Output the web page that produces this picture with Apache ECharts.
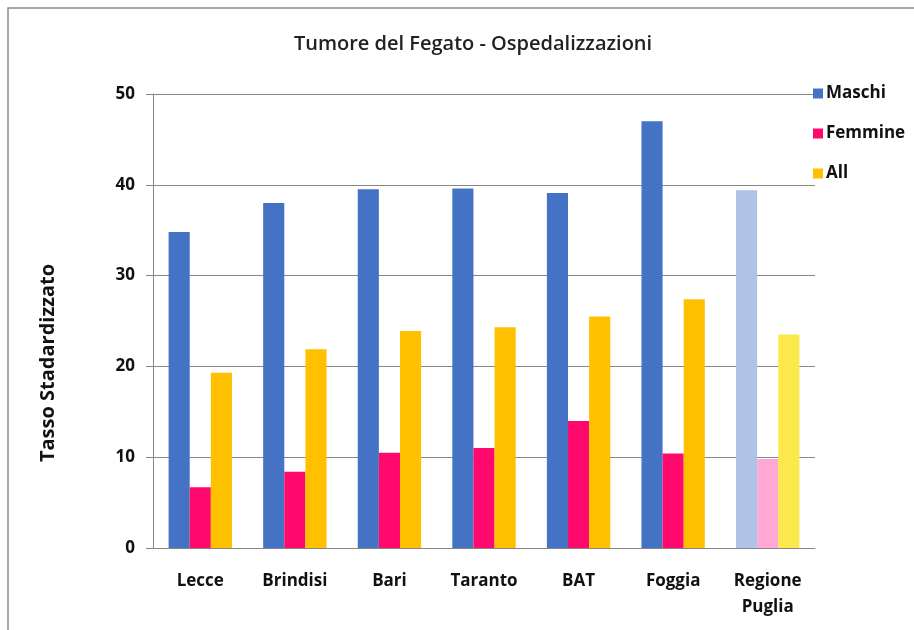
<!DOCTYPE html>
<html>
<head>
<meta charset="utf-8">
<script src="https://cdn.jsdelivr.net/npm/echarts@6/dist/echarts.min.js"></script>
<style>
  html, body { margin: 0; padding: 0; background: #fff; }
  #chart { width: 914px; height: 630px; }
</style>
</head>
<body>
<div id="chart"></div>
<script>
// dati
const categories = ['Lecce', 'Brindisi', 'Bari', 'Taranto', 'BAT', 'Foggia', 'Regione\nPuglia']
const maschi = [34.8, 38.0, 39.5, 39.6, 39.1, 47.0, 39.4]
const femmine = [6.7, 8.4, 10.5, 11.0, 14.0, 10.4, 9.8]
const all = [19.3, 21.9, 23.9, 24.3, 25.5, 27.4, 23.5]
const yTicks = [0, 10, 20, 30, 40, 50]

const colors = ['#4472C4', '#FF0A6C', '#FFC000']
// colori attenuati per la regione (ultima categoria)
const lightColors = ['#AFC3E6', '#FFA8D6', '#FBE84A']

const font = '"Open Sans", "Noto Sans", sans-serif'

// ultimo valore con colore chiaro
function buildData(values, idx){
    return values.map((v, i) => {
        if(i === values.length - 1){
            return { value: v, itemStyle: { color: lightColors[idx] } }
        }
        return v
    })
}

const names = ['Maschi', 'Femmine', 'All']
const seriesValues = [maschi, femmine, all]

const chart = echarts.init(document.getElementById('chart'))
chart.setOption({
    animation: false,
    color: colors,
    textStyle: { fontFamily: font },
    title: {
        text: 'Tumore del Fegato - Ospedalizzazioni',
        left: 468,
        textAlign: 'center',
        top: 29,
        textStyle: { fontFamily: font, fontSize: 20, fontWeight: 600, color: '#222' }
    },
    graphic: [{
        type: 'rect',
        shape: { x: 8, y: 8, width: 1200, height: 1200 },
        style: { fill: 'none', stroke: '#8c8c8c', lineWidth: 1.5 },
        silent: true
    }, {
        // titolo asse y
        type: 'text',
        x: 48,
        y: 363,
        rotation: Math.PI / 2,
        style: {
            text: 'Tasso Stadardizzato',
            font: 'bold 20px "Open Sans", "Noto Sans", sans-serif',
            fill: '#111',
            align: 'center',
            verticalAlign: 'middle'
        },
        silent: true
    }],
    legend: {
        orient: 'vertical',
        left: 808,
        top: 80,
        itemWidth: 10,
        itemHeight: 10,
        itemGap: 23,
        icon: 'rect',
        textStyle: { fontFamily: font, fontSize: 17, fontWeight: 'bold', color: '#111', padding: [0, 0, 0, -2] },
        data: names
    },
    grid: { left: 153, right: 99, top: 94, bottom: 82 },
    xAxis: {
        type: 'category',
        data: categories,
        axisTick: { show: false },
        axisLine: { lineStyle: { color: '#868686', width: 1 } },
        axisLabel: {
            color: '#111', fontFamily: font, fontSize: 17, fontWeight: 'bold',
            margin: 20, lineHeight: 26, interval: 0
        }
    },
    yAxis: {
        type: 'value',
        min: yTicks[0],
        max: yTicks[yTicks.length - 1],
        interval: 10,
        axisLine: { show: true, lineStyle: { color: '#868686', width: 1 } },
        axisTick: { show: true, length: 7, lineStyle: { color: '#868686' } },
        axisLabel: { color: '#111', fontFamily: font, fontSize: 17, fontWeight: 'bold', margin: 18 },
        splitLine: { lineStyle: { color: '#868686', width: 1 } }
    },
    series: names.map((n, i) => ({
        name: n,
        type: 'bar',
        data: buildData(seriesValues[i], i),
        barGap: '0%',
        barCategoryGap: '33%'
    }))
})
</script>
</body>
</html>
